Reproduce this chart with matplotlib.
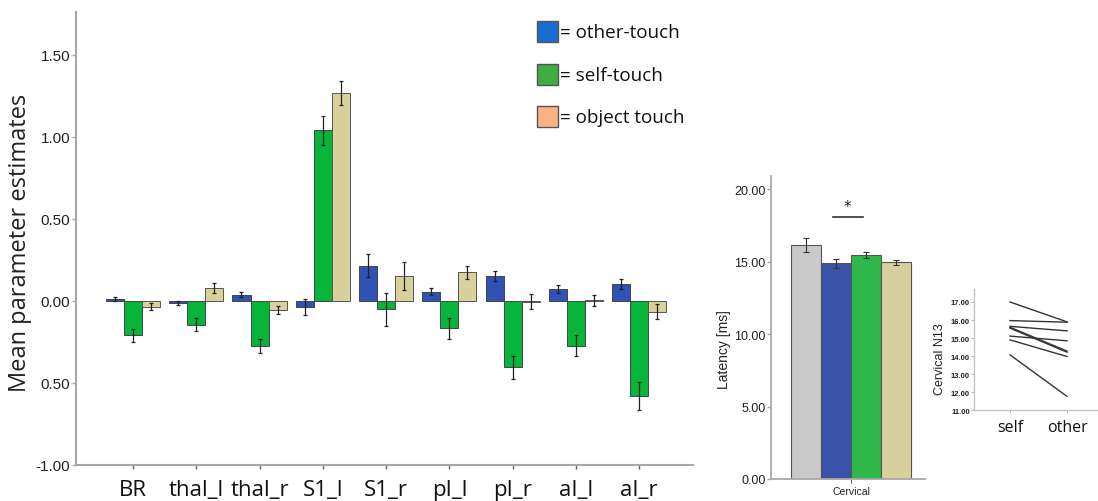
import matplotlib
matplotlib.use("Agg")
import matplotlib.pyplot as plt
import matplotlib.patches as patches
import numpy as np

# Mean parameter estimates per region (other / self / object touch)
regions = ['BR', 'thal_l', 'thal_r', 'S1_l', 'S1_r', 'pI_l', 'pI_r', 'aI_l', 'aI_r']
other_touch = [0.01, -0.015, 0.037, -0.035, 0.215, 0.057, 0.154, 0.075, 0.105]
other_err = [0.012, 0.012, 0.015, 0.05, 0.07, 0.023, 0.03, 0.025, 0.031]
self_touch = [-0.21, -0.145, -0.274, 1.04, -0.05, -0.167, -0.405, -0.272, -0.577]
self_err = [0.04, 0.04, 0.042, 0.09, 0.10, 0.063, 0.069, 0.066, 0.085]
object_touch = [-0.035, 0.078, -0.055, 1.27, 0.15, 0.175, -0.004, 0.004, -0.065]
object_err = [0.02, 0.03, 0.027, 0.072, 0.086, 0.04, 0.045, 0.034, 0.045]
est_ticks = [-1.0, -0.5, 0.0, 0.5, 1.0, 1.5]
est_ticklabels = ['-1.00', '0.50', '0.00', '0.50', '1.00', '1.50']

legend_labels = ['= other-touch', '= self-touch', '= object touch']

# Cervical N13 latency
latency_conds = ['rest', 'other', 'self', 'object']
latency = [16.12, 14.87, 15.45, 14.94]
latency_err = [0.48, 0.30, 0.23, 0.17]
latency_ticks = [0, 5, 10, 15, 20]

# single subjects, self vs other
n13_self = [17.00, 15.97, 15.65, 15.60, 15.55, 15.11, 14.90, 14.07]
n13_other = [15.90, 15.88, 15.40, 14.28, 14.22, 14.85, 13.98, 11.77]
n13_ticks = [11, 12, 13, 14, 15, 16, 17]

W, H = 1098, 502
fig = plt.figure(figsize=(W / 100, H / 100), dpi=100)


def box(x0, y0, x1, y1):
    # pixel box (top-left origin) -> figure fraction rect
    return [x0 / W, 1 - y1 / H, (x1 - x0) / W, (y1 - y0) / H]


TICK_FONT = 'Liberation Sans'
LABEL_FONT = 'Open Sans'
spine_col = '#a8a8a8'

# ---- main bar chart ----
ax = fig.add_axes(box(76, 13, 693, 466))
x = np.arange(len(regions))
bw = 0.285
ekw = dict(elinewidth=0.9, capthick=0.9, ecolor='#222222')
ax.bar(x - bw, other_touch, bw, yerr=other_err, capsize=1.6, color='#2f52b4',
       edgecolor='#444444', linewidth=0.7, error_kw=ekw)
ax.bar(x, self_touch, bw, yerr=self_err, capsize=1.6, color='#06b53a',
       edgecolor='#444444', linewidth=0.7, error_kw=ekw)
ax.bar(x + bw, object_touch, bw, yerr=object_err, capsize=1.6, color='#d8d19c',
       edgecolor='#555555', linewidth=0.7, error_kw=ekw)

ax.set_xlim(-0.9, 8.85)
ax.set_ylim(-1.0, 1.762)
ax.set_yticks(est_ticks)
ax.set_yticklabels(est_ticklabels, fontsize=11, family=TICK_FONT, color='#222222')
ax.set_xticks(x)
ax.set_xticklabels(regions, fontsize=16, family=LABEL_FONT, color='#111111')
ax.tick_params(axis='y', length=3, width=1, color=spine_col, pad=1)
ax.tick_params(axis='x', length=3, width=1, color='#666666', pad=7)
for side in ['top', 'right']:
    ax.spines[side].set_visible(False)
for side in ['left', 'bottom']:
    ax.spines[side].set_color(spine_col)
    ax.spines[side].set_linewidth(1.5)
fig.text(20 / W, 1 - 243 / H, 'Mean parameter estimates', rotation=90,
         ha='center', va='center', fontsize=17, family=LABEL_FONT, color='#222222')

# legend squares
legend_cols = ['#1a6bd0', '#3fae40', '#fbb182']
legend_tops = [22, 65, 107]
for col, top, lab in zip(legend_cols, legend_tops, legend_labels):
    fig.add_artist(patches.Rectangle((537 / W, 1 - (top + 21) / H), 21 / W, 21 / H,
                                     transform=fig.transFigure, facecolor=col,
                                     edgecolor='#555555', linewidth=1))
    fig.text(560 / W, 1 - (top + 11) / H, lab, ha='left', va='center',
             fontsize=13.6, family=LABEL_FONT, color='#111111')

# ---- latency bars ----
ax2 = fig.add_axes(box(771, 177, 925, 480))
lat_cols = ['#c9c9c9', '#3a53a8', '#2fb84a', '#d7d09d']
offs = np.array([-1.5, -0.5, 0.5, 1.5])
ax2.bar(offs, latency, 1.0, yerr=latency_err, capsize=2.5, color=lat_cols,
        edgecolor='#555555', linewidth=0.8,
        error_kw=dict(elinewidth=0.8, capthick=0.8, ecolor='#333333'))
ax2.set_xlim(-2.667, 2.467)
ax2.set_ylim(0, 20.9)
ax2.set_yticks(latency_ticks)
ax2.set_yticklabels([f'{v:.2f}' for v in latency_ticks], fontsize=9,
                    family=TICK_FONT, color='#222222')
ax2.set_xticks([0])
ax2.set_xticklabels(['Cervical'], fontsize=7.5, family=TICK_FONT, color='#222222')
ax2.tick_params(axis='y', length=3, width=1, color=spine_col, pad=1)
ax2.tick_params(axis='x', length=3, width=0.8, color='#666666', pad=2)
for side in ['top', 'right']:
    ax2.spines[side].set_visible(False)
for side in ['left', 'bottom']:
    ax2.spines[side].set_color(spine_col)
    ax2.spines[side].set_linewidth(1.3)
ax2.plot([-0.61, 0.41], [18.09, 18.09], color='#333333', lw=1.2)
ax2.text(-0.13, 18.3, '*', ha='center', va='bottom', fontsize=11, color='#222222')
fig.text(724 / W, 1 - 350 / H, 'Latency [ms]', rotation=90, ha='center', va='center',
         fontsize=10, family=TICK_FONT, color='#222222')

# ---- paired lines ----
ax3 = fig.add_axes(box(974, 290, 1097, 411.3))
for s, o in zip(n13_self, n13_other):
    ax3.plot([0, 1], [s, o], color='#333333', lw=1.0)
ax3.set_xlim(-0.632, 1.526)
ax3.set_ylim(11, 17.72)
ax3.set_yticks(n13_ticks)
ax3.set_yticklabels([f'{v:.2f}' for v in n13_ticks], fontsize=5.5,
                    family=TICK_FONT, color='#222222', fontweight='bold')
ax3.set_xticks([0, 1])
ax3.set_xticklabels(['self', 'other'], fontsize=11.5, family=LABEL_FONT, color='#111111')
ax3.tick_params(axis='y', length=2, width=0.6, color=spine_col, pad=1)
ax3.tick_params(axis='x', length=2, width=0.6, color=spine_col, pad=4)
for side in ['top', 'right']:
    ax3.spines[side].set_visible(False)
for side in ['left', 'bottom']:
    ax3.spines[side].set_color('#c4c4c4')
    ax3.spines[side].set_linewidth(1)
fig.text(940 / W, 1 - 359 / H, 'Cervical N13', rotation=90, ha='center', va='center',
         fontsize=9, family=TICK_FONT, color='#222222')

fig.savefig('out.png', dpi=100)
